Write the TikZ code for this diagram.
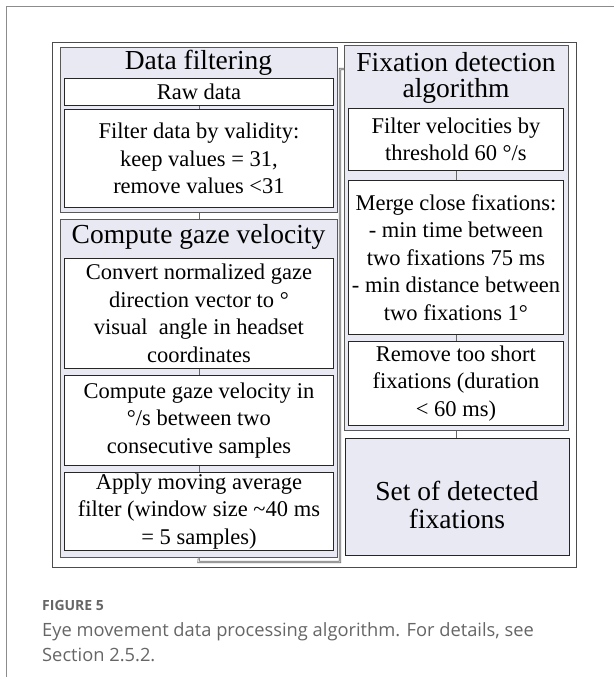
\documentclass[tikz,border=0pt]{standalone}
\usepackage{fontspec}
\setmainfont{Liberation Serif}
\newfontfamily\capfont{Open Sans}
\definecolor{lav}{HTML}{E9E9F4}
\definecolor{capgray}{HTML}{666666}
\newcommand{\bodyf}{\fontsize{22.5}{27.5}\selectfont}
\newcommand{\titlef}{\fontsize{27.5}{28}\selectfont}
\begin{document}
\begin{tikzpicture}[x=1pt,y=-1pt,
  grp/.style={draw=black!65, fill=lav, line width=0.9pt, anchor=north west, inner sep=0pt},
  box/.style={draw=black!85, fill=white, line width=0.9pt, anchor=north west, align=center, font=\bodyf, inner sep=0pt},
  tbox/.style={draw=black!85, fill=lav, line width=0.9pt, anchor=north west, inner sep=0pt},
  ttl/.style={anchor=base, font=\titlef, inner sep=0pt, align=center},
  conn/.style={draw=black!60, line width=0.8pt},
  elbow/.style={draw=black!55, double=black!12, double distance=0.9pt, line width=0.6pt},
  captxt/.style={anchor=base west, inner sep=0pt, text=capgray, font=\capfont\fontsize{18.3}{25}\selectfont}
]
\useasboundingbox (0,0) rectangle (614,677);
\fill[white] (0,0) rectangle (614,677);
% page frame
\draw[black!45, line width=1pt] (6,677) -- (6,7) -- (614,7);
% outer diagram box
\node[draw=black!70, line width=1pt, anchor=north west, minimum width=524, minimum height=525, inner sep=0pt] (outer) at (52,42) {};
% elbow connector from left column to right column
\coordinate (e1) at (198.5,562);
\coordinate (e2) at (340,562);
\coordinate (e3) at (340,69);
\coordinate (e4) at (344,69);
% groups
\node[grp, minimum width=277, minimum height=165] (dgrp) at (60,47) {};
\node[grp, minimum width=277, minimum height=338] (cgrp) at (60,219) {};
\node[grp, minimum width=224, minimum height=385] (fgrp) at (344,45) {};
\draw[elbow] (cgrp.south) -- (e1) -- (e2) -- (e3) -- (e4);
% group titles
\node[ttl] (dttl) at (198.5,70) {Data filtering};
\node[ttl] (cttl) at (198.5,243) {Compute gaze velocity};
\node[ttl] (fttl) at (456,71.5) {Fixation detection};
\node[ttl] (fttl2) at (456,97.5) {algorithm};
% left boxes
\node[box, minimum width=269, minimum height=27] (raw) at (64,78) {Raw data};
\node[box, minimum width=269, minimum height=98] (filt) at (64,109) {Filter data by validity:\\keep values = 31,\\remove values <31};
\node[box, minimum width=269, minimum height=110] (conv) at (64,258) {Convert normalized gaze\\direction vector to °\\visual\ \ angle in headset\\coordinates};
\node[box, minimum width=269, minimum height=90] (vel) at (64,375) {Compute gaze velocity in\\°/s between two\\consecutive samples};
\node[box, minimum width=269, minimum height=78] (avg) at (64,472) {Apply moving average\\filter (window size \textasciitilde40 ms\\= 5 samples)};
% right boxes
\node[box, minimum width=215, minimum height=62] (thr) at (348,108) {Filter velocities by\\threshold 60 °/s};
\node[box, minimum width=215, minimum height=154] (merge) at (348,180) {Merge close fixations:\\- min time between\\two fixations 75 ms\\- min distance between\\two fixations 1°};
\node[box, minimum width=215, minimum height=84] (short) at (348,341) {Remove too short\\fixations (duration\\< 60 ms)};
\node[tbox, minimum width=224, minimum height=117] (set) at (345,438) {};
\node[ttl, anchor=base] (settxt1) at (457,500) {Set of detected};
\node[ttl, anchor=base] (settxt2) at (457,528) {fixations};
% connectors
\draw[conn] (raw.south) -- (filt.north);
\draw[conn] (dgrp.south) -- (cgrp.north);
\draw[conn] (conv.south) -- (vel.north);
\draw[conn] (vel.south) -- (avg.north);
\draw[conn] (thr.south) -- (merge.north);
\draw[conn] (merge.south) -- (short.north);
\draw[conn] (fgrp.south) -- (fgrp.south |- set.north);
% caption
\node[captxt, font=\capfont\bfseries\fontsize{14}{16}\selectfont] (fig) at (42,610) {FIGURE 5};
\node[captxt] (c1) at (42,636) {Eye movement data processing algorithm. For details, see};
\node[captxt] (c2) at (42,661) {Section 2.5.2.};
\end{tikzpicture}
\end{document}
